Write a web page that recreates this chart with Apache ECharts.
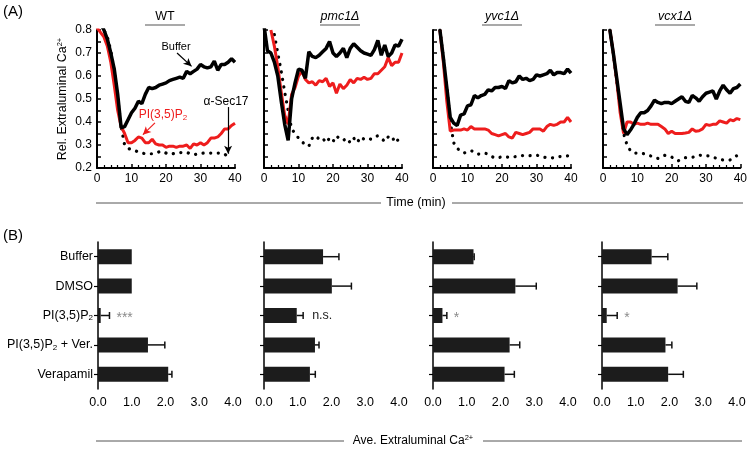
<!DOCTYPE html>
<html>
<head>
<meta charset="utf-8">
<script src="https://cdn.jsdelivr.net/npm/echarts@6/dist/echarts.min.js"></script>
<style>
  html, body { margin: 0; background: #fff; }
  #chart { width: 750px; height: 450px; }
</style>
</head>
<body>
<div id="chart"></div>
<script>
// (A) time course, one value per minute, null = no point
const times = [0, 1, 2, 3, 4, 5, 6, 7, 8, 9, 10, 11, 12, 13, 14, 15, 16, 17, 18, 19, 20,
  21, 22, 23, 24, 25, 26, 27, 28, 29, 30, 31, 32, 33, 34, 35, 36, 37, 38, 39, 40]

const wtBuffer = [null, 0.83, 0.80, 0.76, 0.70, 0.63, 0.52, 0.375, 0.38, 0.41, 0.44, 0.46, 0.49, 0.48, 0.52, 0.55, 0.545, 0.55, 0.56, 0.565, 0.57,
  0.58, 0.585, 0.59, 0.595, 0.59, 0.62, 0.61, 0.62, 0.63, 0.65, 0.64, 0.635, 0.64, 0.665, 0.625, 0.65, 0.65, 0.66, 0.675, 0.66]
const wtPI = [0.81, 0.79, 0.77, 0.73, 0.66, 0.56, 0.45, 0.38, 0.35, 0.31, 0.31, 0.32, 0.335, 0.33, 0.31, 0.31, 0.325, 0.305, 0.30, 0.30, 0.29,
  0.295, 0.295, 0.29, 0.295, 0.295, 0.30, 0.285, 0.305, 0.30, 0.31, 0.30, 0.31, 0.33, 0.33, 0.335, 0.35, 0.37, 0.37, 0.385, 0.395]
const wtSec17 = [null, 0.82, 0.80, 0.77, 0.71, 0.62, 0.50, 0.38, 0.30, 0.285, 0.28, 0.275, 0.27, 0.265, 0.262, 0.262, 0.262, 0.265, 0.27, 0.272, 0.265,
  0.26, 0.262, 0.265, 0.267, 0.267, 0.268, 0.262, 0.258, 0.26, 0.263, 0.265, 0.265, 0.265, 0.265, 0.265, 0.265, 0.26, 0.25, null, null]

const pmcBuffer = [0.82, 0.71, 0.70, 0.66, 0.60, 0.49, 0.39, 0.32, 0.50, 0.57, 0.63, 0.625, 0.59, 0.705, 0.685, 0.68, 0.69, 0.705, 0.72, 0.75, 0.70,
  0.685, 0.70, 0.72, 0.68, 0.72, 0.74, 0.725, 0.71, 0.70, 0.695, 0.69, 0.715, 0.755, 0.69, 0.735, 0.685, 0.70, 0.735, 0.73, 0.76]
const pmcPI = [null, null, 0.80, 0.73, 0.64, 0.53, 0.43, 0.39, 0.52, 0.55, 0.60, 0.62, 0.585, 0.57, 0.575, 0.56, 0.58, 0.575, 0.59, 0.555, 0.57,
  0.525, 0.565, 0.545, 0.56, 0.585, 0.57, 0.59, 0.585, 0.595, 0.585, 0.59, 0.61, 0.61, 0.625, 0.64, 0.68, 0.645, 0.66, 0.66, 0.70]
const pmcSec17 = [null, null, null, 0.78, 0.70, 0.62, 0.53, 0.45, 0.37, 0.35, 0.33, 0.315, 0.30, 0.295, 0.33, 0.34, 0.325, 0.33, 0.31, 0.33, 0.315,
  0.34, 0.325, 0.32, 0.33, 0.31, 0.33, 0.31, 0.335, 0.325, 0.33, 0.325, 0.335, 0.34, 0.33, 0.315, 0.335, 0.34, 0.31, 0.325, 0.31]

const yvcBuffer = [null, null, 0.80, 0.68, 0.55, 0.42, 0.395, 0.385, 0.43, 0.435, 0.47, 0.475, 0.515, 0.505, 0.515, 0.52, 0.54, 0.535, 0.55, 0.55, 0.555,
  0.545, 0.58, 0.57, 0.575, 0.60, 0.585, 0.59, 0.58, 0.585, 0.605, 0.60, 0.605, 0.61, 0.625, 0.605, 0.615, 0.615, 0.61, 0.63, 0.612]
const yvcPI = [null, null, 0.80, 0.66, 0.49, 0.36, 0.365, 0.365, 0.365, 0.37, 0.365, 0.38, 0.37, 0.37, 0.37, 0.37, 0.365, 0.35, 0.345, 0.34, 0.345,
  0.35, 0.335, 0.33, 0.355, 0.35, 0.345, 0.35, 0.355, 0.37, 0.37, 0.37, 0.36, 0.38, 0.39, 0.385, 0.39, 0.40, 0.40, 0.42, 0.40]
const yvcSec17 = [null, null, 0.80, 0.68, 0.55, 0.40, 0.31, 0.285, 0.275, 0.265, 0.27, 0.275, 0.27, 0.26, 0.262, 0.265, 0.26, 0.25, 0.243, 0.245, 0.249,
  0.248, 0.247, 0.246, 0.25, 0.254, 0.254, 0.253, 0.254, 0.255, 0.256, 0.252, 0.247, 0.245, 0.243, 0.244, 0.248, 0.25, 0.252, 0.253, 0.253]

const vcxBuffer = [null, null, 0.80, 0.70, 0.59, 0.48, 0.37, 0.345, 0.365, 0.39, 0.42, 0.44, 0.44, 0.45, 0.47, 0.495, 0.485, 0.48, 0.485, 0.485, 0.48,
  0.49, 0.50, 0.51, 0.49, 0.485, 0.515, 0.505, 0.49, 0.51, 0.525, 0.53, 0.535, 0.50, 0.535, 0.56, 0.54, 0.525, 0.545, 0.55, 0.565]
const vcxPI = [null, null, 0.80, 0.70, 0.58, 0.44, 0.35, 0.40, 0.40, 0.39, 0.395, 0.39, 0.39, 0.395, 0.39, 0.39, 0.39, 0.38, 0.37, 0.35, 0.36,
  0.35, 0.35, 0.35, 0.352, 0.355, 0.37, 0.36, 0.362, 0.37, 0.39, 0.385, 0.39, 0.39, 0.405, 0.40, 0.395, 0.41, 0.405, 0.415, 0.41]
const vcxSec17 = [null, null, 0.80, 0.70, 0.58, 0.46, 0.35, 0.30, 0.275, 0.265, 0.265, 0.265, 0.262, 0.256, 0.252, 0.245, 0.242, 0.25, 0.255, 0.252, 0.248,
  0.235, 0.232, 0.24, 0.245, 0.245, 0.246, 0.252, 0.256, 0.254, 0.253, 0.252, 0.248, 0.242, 0.238, 0.235, 0.235, 0.235, 0.243, 0.254, 0.254]

// (B) averages with one-sided error (SEM)
const treatments = ["Buffer", "DMSO", "PI(3,5)P2", "PI(3,5)P2 + Ver.", "Verapamil"]
const wtMean = [1.0, 1.0, 0.08, 1.48, 2.08]
const wtErr = [0, 0, 0.26, 0.50, 0.11]
const wtSig = ["", "", "***", "", ""]
const pmcMean = [1.75, 2.01, 0.97, 1.51, 1.36]
const pmcErr = [0.47, 0.58, 0.19, 0.12, 0.16]
const pmcSig = ["", "", "n.s.", "", ""]
const yvcMean = [1.20, 2.44, 0.28, 2.27, 2.12]
const yvcErr = [0.02, 0.62, 0.13, 0.30, 0.29]
const yvcSig = ["", "", "*", "", ""]
const vcxMean = [1.47, 2.24, 0.14, 1.88, 1.96]
const vcxErr = [0.48, 0.57, 0.31, 0.19, 0.45]
const vcxSig = ["", "", "*", "", ""]

const strains = ["WT", "pmc1\u0394", "yvc1\u0394", "vcx1\u0394"]
const xTicksA = [0, 10, 20, 30, 40]

const FONT = "Liberation Sans, Arial, sans-serif"
const RED = "#ee1d1d"
const BAR = "#1c1c1c"

const panelsA = [
  { buf: wtBuffer, pi: wtPI, sec: wtSec17 },
  { buf: pmcBuffer, pi: pmcPI, sec: pmcSec17 },
  { buf: yvcBuffer, pi: yvcPI, sec: yvcSec17 },
  { buf: vcxBuffer, pi: vcxPI, sec: vcxSec17 }
]
const panelsB = [
  { mean: wtMean, err: wtErr, sig: wtSig },
  { mean: pmcMean, err: pmcErr, sig: pmcSig },
  { mean: yvcMean, err: yvcErr, sig: yvcSig },
  { mean: vcxMean, err: vcxErr, sig: vcxSig }
]

const leftA = [97, 264, 433, 603]
const leftB = [98, 264, 433, 602]

function pairs(arr) {
  return times.map((t, i) => [t, arr[i]]).filter(p => p[1] != null)
}

const chart = echarts.init(document.getElementById("chart"), null, { renderer: "canvas" })

const grid = [], xAxis = [], yAxis = [], series = []

panelsA.forEach((p, k) => {
  grid.push({ left: leftA[k], top: 30, width: 138, height: 138 })
  xAxis.push({
    type: "value", gridIndex: k, min: 0, max: 40, interval: 10,
    axisLine: { lineStyle: { color: "#000", width: 2 } },
    axisTick: { inside: true, length: 4, lineStyle: { color: "#000", width: 1.5 } },
    minorTick: { show: true, splitNumber: 5, length: 3, lineStyle: { color: "#000", width: 1.2 } },
    splitLine: { show: false },
    axisLabel: { color: "#000", fontSize: 12, fontFamily: FONT, margin: 5,
      customValues: xTicksA }
  })
  yAxis.push({
    type: "value", gridIndex: k, min: 0.2, max: 0.8, interval: 0.1,
    axisLine: { show: true, lineStyle: { color: "#000", width: 2 } },
    axisTick: { show: true, inside: true, length: 4, lineStyle: { color: "#000", width: 1.5 } },
    minorTick: { show: true, splitNumber: 2, length: 4, lineStyle: { color: "#000", width: 1.5 } },
    splitLine: { show: false },
    axisLabel: { show: k === 0, color: "#000", fontSize: 12, fontFamily: FONT, margin: 5,
      formatter: v => v.toFixed(1) },
    name: k === 0 ? "Rel. Extraluminal Ca{sup|2+}" : "",
    nameLocation: "middle", nameGap: 27, nameRotate: 90,
    nameTextStyle: { color: "#000", fontSize: 12.5, fontFamily: FONT,
      rich: { sup: { fontSize: 7.5, fontFamily: FONT, color: "#000", verticalAlign: "top", lineHeight: 14 } } }
  })
  series.push({
    type: "line", xAxisIndex: k, yAxisIndex: k, data: pairs(p.sec), symbol: "none",
    lineStyle: { color: "#000", width: 3.2, type: [0.1, 7.5], cap: "round" },
    markLine: k === 0 ? {
      silent: true, symbol: ["none", "arrow"], symbolSize: [6, 8],
      label: { show: false },
      lineStyle: { color: "#000", width: 1.2, type: "solid" },
      data: [[{ coord: [38, 0.465] }, { coord: [38, 0.262] }]]
    } : undefined
  })
  series.push({
    type: "line", xAxisIndex: k, yAxisIndex: k, data: pairs(p.pi), symbol: "none",
    lineStyle: { color: RED, width: 3 },
    markLine: k === 0 ? {
      silent: true, symbol: ["none", "arrow"], symbolSize: [6, 8],
      label: { show: false },
      lineStyle: { color: RED, width: 1.2, type: "solid" },
      data: [[{ coord: [16.8, 0.396] }, { coord: [13.3, 0.345] }]]
    } : undefined
  })
  series.push({
    type: "line", xAxisIndex: k, yAxisIndex: k, data: pairs(p.buf), symbol: "none",
    lineStyle: { color: "#000", width: 3.5 },
    markLine: k === 0 ? {
      silent: true, symbol: ["none", "arrow"], symbolSize: [6, 8],
      label: { show: false },
      lineStyle: { color: "#000", width: 1.2, type: "solid" },
      data: [[{ coord: [23.2, 0.70] }, { coord: [27.4, 0.642] }]]
    } : undefined
  })
})

function errRenderer(p) {
  return function (params, api) {
    const cat = api.value(1)
    const lo = api.coord([api.value(0), cat])
    const hi = api.coord([api.value(2), cat])
    const st = { stroke: "#111", lineWidth: 1.5 }
    const kids = []
    if (api.value(2) > api.value(0)) {
      kids.push({ type: "line", shape: { x1: lo[0], y1: lo[1], x2: hi[0], y2: hi[1] }, style: st })
      kids.push({ type: "line", shape: { x1: hi[0], y1: hi[1] - 3.5, x2: hi[0], y2: hi[1] + 3.5 }, style: st })
    }
    const s = p.sig[params.dataIndex]
    if (s) {
      const star = s.indexOf("*") >= 0
      kids.push({ type: "text", x: hi[0] + (star ? 7 : 9), y: hi[1] + (star ? 3 : 0),
        style: { text: s, fill: star ? "#8a8a8a" : "#222", fontSize: star ? 14 : 12.5,
          fontFamily: FONT, verticalAlign: "middle" } })
    }
    return { type: "group", children: kids }
  }
}

panelsB.forEach((p, k) => {
  const gi = 4 + k
  grid.push({ left: leftB[k], top: 242, width: 135, height: 147 })
  xAxis.push({
    type: "value", gridIndex: gi, min: 0, max: 4, interval: 1,
    axisLine: { lineStyle: { color: "#000", width: 1.5 } },
    axisTick: { show: false },
    splitLine: { show: false },
    axisLabel: { color: "#000", fontSize: 12.5, fontFamily: FONT, margin: 7,
      formatter: v => v.toFixed(1) }
  })
  yAxis.push({
    type: "category", gridIndex: gi, data: treatments, inverse: true,
    axisLine: { lineStyle: { color: "#000", width: 1.5 } },
    axisTick: { show: true, alignWithLabel: true, length: 4, lineStyle: { color: "#000", width: 1.2 } },
    axisLabel: {
      show: k === 0, color: "#000", fontSize: 12.5, fontFamily: FONT, margin: 5,
      formatter: v => v.replace("P2", "P{sub|2}"),
      rich: { sub: { fontSize: 8, fontFamily: FONT, color: "#000", verticalAlign: "bottom", lineHeight: 12, padding: [6, 0, 0, 0] } }
    }
  })
  series.push({
    type: "bar", xAxisIndex: gi, yAxisIndex: gi, data: p.mean, barWidth: 15,
    itemStyle: { color: BAR }
  })
  series.push({
    type: "custom", xAxisIndex: gi, yAxisIndex: gi,
    data: p.mean.map((m, i) => [m, i, m + p.err[i]]),
    encode: { x: [0, 2], y: 1 },
    renderItem: errRenderer(p), z: 3
  })
})

const titleX = [165, 340, 502, 675]
const graphic = [
  { type: "text", left: 3, top: 4, style: { text: "(A)", fontSize: 15, fontFamily: FONT, fill: "#000" } },
  { type: "text", left: 3, top: 228, style: { text: "(B)", fontSize: 15, fontFamily: FONT, fill: "#000" } },
  // annotations in the WT panel
  { type: "text", x: 176, y: 47, style: { text: "Buffer", fontSize: 11, fontFamily: FONT, fill: "#000", align: "center", verticalAlign: "middle" } },
  { type: "text", x: 163, y: 115, style: { text: "PI(3,5)P{sub|2}", fontSize: 12, fontFamily: FONT, fill: RED, align: "center", verticalAlign: "middle",
      rich: { sub: { fontSize: 8, fill: RED, fontFamily: FONT, verticalAlign: "bottom", padding: [6, 0, 0, 0] } } } },
  { type: "text", x: 226, y: 102, style: { text: "\u03b1-Sec17", fontSize: 12, fontFamily: FONT, fill: "#000", align: "center", verticalAlign: "middle" } },
  // shared axis captions with rules
  { type: "line", shape: { x1: 96, y1: 203, x2: 381, y2: 203 }, style: { stroke: "#555", lineWidth: 1 } },
  { type: "line", shape: { x1: 452, y1: 203, x2: 743, y2: 203 }, style: { stroke: "#555", lineWidth: 1 } },
  { type: "text", x: 416, y: 203, style: { text: "Time (min)", fontSize: 12.5, fontFamily: FONT, fill: "#000", align: "center", verticalAlign: "middle" } },
  { type: "line", shape: { x1: 96, y1: 441, x2: 344, y2: 441 }, style: { stroke: "#555", lineWidth: 1 } },
  { type: "line", shape: { x1: 483, y1: 441, x2: 742, y2: 441 }, style: { stroke: "#555", lineWidth: 1 } },
  { type: "text", x: 413, y: 441, style: { text: "Ave. Extraluminal Ca{sup|2+}", fontSize: 12, fontFamily: FONT, fill: "#000", align: "center", verticalAlign: "middle",
      rich: { sup: { fontSize: 7.5, fill: "#000", fontFamily: FONT, verticalAlign: "top", padding: [0, 0, 6, 0] } } } }
]
strains.forEach((s, k) => {
  graphic.push({ type: "text", x: titleX[k], y: 17, style: { text: s, fontSize: 12.5, fontFamily: FONT, fill: "#000",
    fontStyle: k === 0 ? "normal" : "italic", align: "center", verticalAlign: "middle" } })
  graphic.push({ type: "line", shape: { x1: titleX[k] - 20, y1: 25, x2: titleX[k] + 20, y2: 25 }, style: { stroke: "#555", lineWidth: 1.2 } })
})

chart.setOption({
  animation: false,
  backgroundColor: "#fff",
  textStyle: { fontFamily: FONT },
  grid, xAxis, yAxis, series, graphic
})
</script>
</body>
</html>
